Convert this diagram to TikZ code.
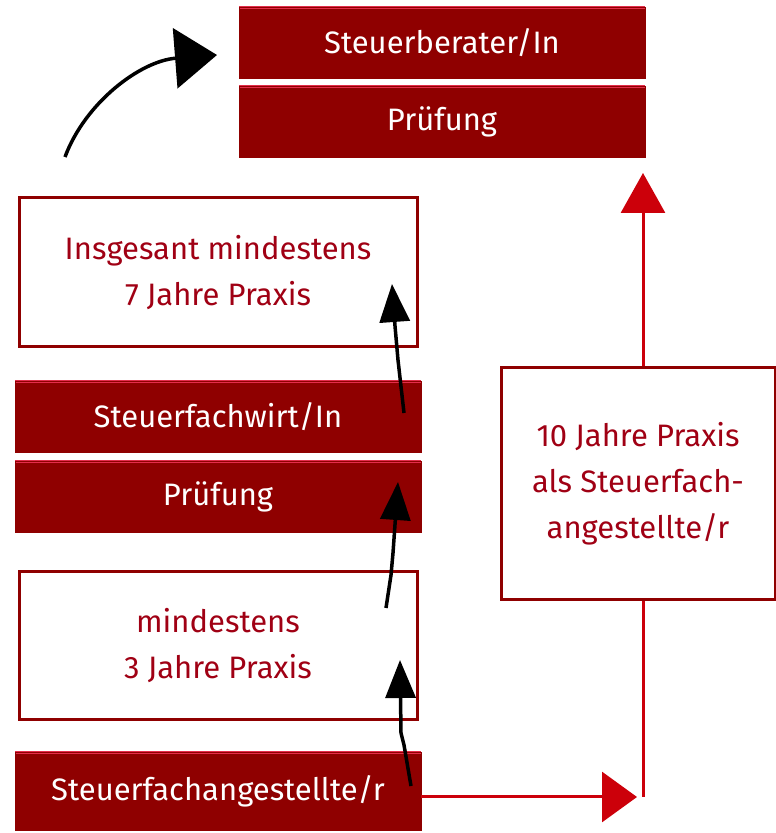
\documentclass[tikz,border=0pt]{standalone}
\usepackage{fontspec}
\setmainfont{Fira Sans}
\usetikzlibrary{arrows.meta}
\definecolor{boxred}{RGB}{143,0,0}
\definecolor{edgered}{RGB}{228,45,75}
\definecolor{linered}{RGB}{204,0,10}
\definecolor{textred}{RGB}{160,0,20}
\tikzset{
  topedge/.style={path picture={\draw[edgered,line width=5pt]
      (path picture bounding box.north west)--(path picture bounding box.north east);}},
  redbox/.style={draw=boxred,fill=boxred,text=white,inner sep=0pt,
    minimum width=406pt,minimum height=71pt,topedge},
  whitebox/.style={draw=boxred,line width=3pt,fill=white,text=textred,inner sep=0pt,
    align=center,minimum width=398pt,minimum height=149pt},
  redline/.style={linered,line width=3pt},
  blackarrow/.style={black,line width=3.5pt,-{Triangle[length=38pt,width=30pt]}}
}
\begin{document}
\begin{tikzpicture}[x=1pt,y=1pt,font=\fontsize{31}{46}\selectfont]
  \useasboundingbox (0,0) rectangle (776,833);
  % top: Steuerberater
  \node[redbox] (berater) at (442,790.5) {Steuerberater/In};
  \node[redbox] (pruefA) at (442,711.5) {Prüfung};
  % left column
  \node[whitebox] (praxisB) at (218,560.5) {Insgesant mindestens\\7 Jahre Praxis};
  \node[redbox] (fachwirt) at (218,416.5) {Steuerfachwirt/In};
  \node[redbox] (pruefB) at (218,336.5) {Prüfung};
  \node[whitebox,minimum height=148pt] (praxisA) at (218,187) {mindestens\\3 Jahre Praxis};
  \node[redbox,minimum height=78pt] (angest) at (218,42) {Steuerfachangestellte/r};
  % right column
  \node[whitebox,minimum width=274pt,minimum height=232pt] (praxisC) at (638,349)
    {10 Jahre Praxis\\als Steuerfach-\\angestellte/r};
  % red path on the right
  \coordinate (rh) at (637,36);
  \coordinate (rv) at (643,660);
  \draw[redline,-{Triangle[length=35pt,width=50pt]}] (angest.east |- rh) -- (rh);
  \draw[redline] (praxisC.south -| rv) -- (rv |- rh);
  \draw[redline,-{Triangle[length=40pt,width=44pt]}] (praxisC.north -| rv) -- (rv);
  % black arrows
  \coordinate (a0) at (411,47);
  \coordinate (a1) at (400,173);
  \draw[blackarrow] (a0) -- (404,88) -- (401,100) -- (a1);
  \coordinate (b0) at (386,225);
  \coordinate (b1) at (398,351);
  \draw[blackarrow] (b0) -- (391,258) -- (393,280) -- (b1);
  \coordinate (c0) at (404,420);
  \coordinate (c1) at (392,549);
  \draw[blackarrow] (c0) -- (398,473) -- (395,507) -- (c1);
  \coordinate (d0) at (65,676);
  \coordinate (d1) at (217,778);
  \draw[black,line width=3.5pt,-{Triangle[length=42pt,width=60pt]}]
    (d0) .. controls (85,730) and (140,772) .. (d1);
\end{tikzpicture}
\end{document}
